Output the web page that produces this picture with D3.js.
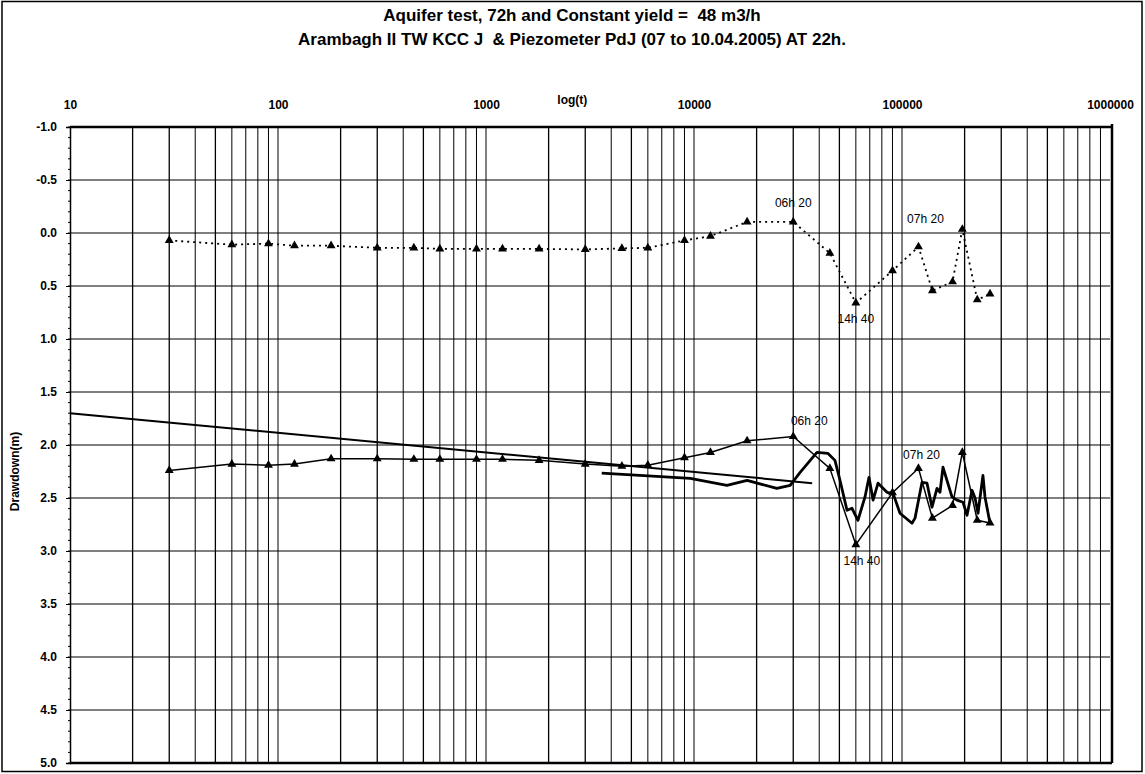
<!DOCTYPE html>
<html><head><meta charset="utf-8">
<script src="https://cdn.jsdelivr.net/npm/d3@7"></script>
<style>
body{margin:0;background:#fff;}
text{font-family:"Liberation Sans",Arial,sans-serif;}
</style></head>
<body><svg id="c" width="1145" height="774"></svg>
<script>
// ---- data ----
const titleLines = ["Aquifer test, 72h and Constant yield =  48 m3/h",
                    "Arambagh II TW KCC J  & Piezometer PdJ (07 to 10.04.2005) AT 22h."];
const xTickValues = [10, 100, 1000, 10000, 100000, 1000000];
const yTickValues = [-1.0,-0.5,0.0,0.5,1.0,1.5,2.0,2.5,3.0,3.5,4.0,4.5,5.0];
// time (s)
const times = [30,60,90,120,180,300,450,600,900,1200,1800,3000,4500,6000,9000,12000,18000,30000,45000,60000,90000,120000,140000,175000,195000,230000,265000];
// piezometer drawdown (m), dotted
const piezo = [0.07,0.11,0.10,0.12,0.12,0.14,0.14,0.15,0.15,0.15,0.15,0.155,0.145,0.14,0.07,0.03,-0.105,-0.105,0.19,0.66,0.356,0.13,0.544,0.46,-0.035,0.63,0.575];
// well drawdown (m), solid with markers
const well = [2.24,2.18,2.19,2.18,2.13,2.13,2.135,2.135,2.135,2.135,2.145,2.18,2.20,2.19,2.12,2.07,1.96,1.92,2.22,2.94,2.45,2.22,2.69,2.57,2.07,2.71,2.735];
// continuous record (thick line)
const loggerT = [3600,9600,14400,18000,25000,29000,32300,39000,44100,47600,50300,54400,57500,61400,66400,69400,72600,76700,84700,90600,97800,111700,115500,124800,131900,139400,147300,152300,157400,164500,173900,183800,196500,205400,217100,224500,232000,245000,250600,264900];
const loggerV = [2.265,2.315,2.38,2.333,2.41,2.38,2.26,2.07,2.08,2.145,2.33,2.616,2.597,2.71,2.49,2.305,2.52,2.36,2.446,2.456,2.644,2.738,2.69,2.352,2.36,2.587,2.41,2.446,2.21,2.333,2.49,2.52,2.54,2.663,2.427,2.50,2.644,2.286,2.49,2.738];
// fitted straight line
const fitT = [10, 37000];
const fitV = [1.70, 2.36];
// annotations: [label, time, value, dx, dy]
const notes = [["06h 20",30000,-0.105,0,-19],["07h 20",120000,0.13,7,-28],["14h 40",60000,0.66,0,16],
               ["06h 20",30000,1.92,16,-16],["07h 20",120000,2.22,3,-13],["14h 40",60000,2.94,6,16]];

// ---- chart ----
const svg = d3.select("#c");
const L=70,R=1110,T=127,B=763;
const x = d3.scaleLog().domain([10,1e6]).range([L,R]);
const y = d3.scaleLinear().domain([-1,5]).range([T,B]);

// outer frame
svg.append("rect").attr("x",2).attr("y",1.5).attr("width",1140).attr("height",770)
  .attr("fill","none").attr("stroke","#000").attr("stroke-width",1.5);

// titles
svg.selectAll("text.title").data(titleLines).join("text").attr("class","title")
  .attr("x",572).attr("y",(d,i)=>21+i*24).attr("text-anchor","middle")
  .style("white-space","pre").attr("xml:space","preserve")
  .attr("font-size",17).attr("font-weight","bold").text(d=>d);

// vertical grid (log minor)
const vg=[];
for(let e=1;e<6;e++){for(let m=1;m<=9;m++){const v=m*Math.pow(10,e); if(v>10&&v<1e6) vg.push(v);}}
svg.append("g").selectAll("line").data(vg).join("line")
  .attr("x1",d=>x(d)).attr("x2",d=>x(d)).attr("y1",T).attr("y2",B)
  .attr("stroke","#000").attr("stroke-width",d=>[2,3,5].includes(Math.round(d/Math.pow(10,Math.floor(Math.log10(d)))))?1.3:1);

// horizontal grid
svg.append("g").selectAll("line").data(yTickValues.slice(1,-1)).join("line")
  .attr("x1",L).attr("x2",R).attr("y1",d=>y(d)).attr("y2",d=>y(d))
  .attr("stroke","#000").attr("stroke-width",1.2);

// plot borders
svg.append("line").attr("x1",L).attr("x2",R+2).attr("y1",T).attr("y2",T).attr("stroke","#000").attr("stroke-width",2.5);
svg.append("line").attr("x1",L).attr("x2",R+2).attr("y1",B).attr("y2",B).attr("stroke","#000").attr("stroke-width",2.5);
svg.append("line").attr("x1",R+2).attr("x2",R+2).attr("y1",T-3).attr("y2",B).attr("stroke","#000").attr("stroke-width",2.5);

// y minor ticks
svg.append("g").selectAll("line").data(d3.range(-1,5.001,0.1)).join("line")
  .attr("x1",L-2).attr("x2",L).attr("y1",d=>y(d)).attr("y2",d=>y(d)).attr("stroke","#000").attr("stroke-width",1);

// y axis
const ya = svg.append("g").attr("transform",`translate(${L},0)`)
  .call(d3.axisLeft(y).tickValues(yTickValues).tickSize(4).tickPadding(9).tickFormat(d=>d.toFixed(1)));
ya.select(".domain").attr("stroke-width",1.5);
ya.selectAll("text").attr("font-size",12).attr("font-weight","bold").attr("font-family","Liberation Sans, Arial, sans-serif");

// top axis labels
const xa = svg.append("g").attr("transform",`translate(0,${T})`)
  .call(d3.axisTop(x).tickValues(xTickValues).tickSize(0).tickPadding(18).tickFormat(d3.format("d")));
xa.select(".domain").remove();
xa.selectAll("text").attr("font-size",12).attr("font-weight","bold").attr("font-family","Liberation Sans, Arial, sans-serif");

svg.append("text").attr("x",x(2600)).attr("y",104).attr("text-anchor","middle")
  .attr("font-size",12).attr("font-weight","bold").text("log(t)");

svg.append("text").attr("transform",`translate(19,${(y(1.5)+y(3))/2}) rotate(-90)`).attr("text-anchor","middle")
  .attr("font-size",12).attr("font-weight","bold").text("Drawdown(m)");

// fit line
const ln = d3.line().x(d=>x(d[0])).y(d=>y(d[1]));
svg.append("path").attr("d",ln(fitT.map((t,i)=>[t,fitV[i]]))).attr("fill","none").attr("stroke","#000").attr("stroke-width",2);

// logger thick line
svg.append("path").attr("d",ln(loggerT.map((t,i)=>[t,loggerV[i]]))).attr("fill","none").attr("stroke","#000").attr("stroke-width",2.8).attr("stroke-linejoin","round");

// piezometer dotted
const pData = times.map((t,i)=>[t,piezo[i]]);
svg.append("path").attr("d",ln(pData)).attr("fill","none").attr("stroke","#000").attr("stroke-width",1.8).attr("stroke-dasharray","2,4");
// well solid
const wData = times.map((t,i)=>[t,well[i]]);
svg.append("path").attr("d",ln(wData)).attr("fill","none").attr("stroke","#000").attr("stroke-width",1.5);

const tri = d3.symbol().type(d3.symbolTriangle).size(34);
[pData,wData].forEach(ds=>{
  svg.append("g").selectAll("path").data(ds).join("path")
    .attr("transform",d=>`translate(${x(d[0])},${y(d[1])})`).attr("d",tri).attr("fill","#000");
});

// annotations
svg.append("g").selectAll("text").data(notes).join("text")
  .attr("x",d=>x(d[1])+d[3]).attr("y",d=>y(d[2])+d[4]+4).attr("text-anchor","middle")
  .attr("font-size",12).text(d=>d[0]);
</script></body></html>
